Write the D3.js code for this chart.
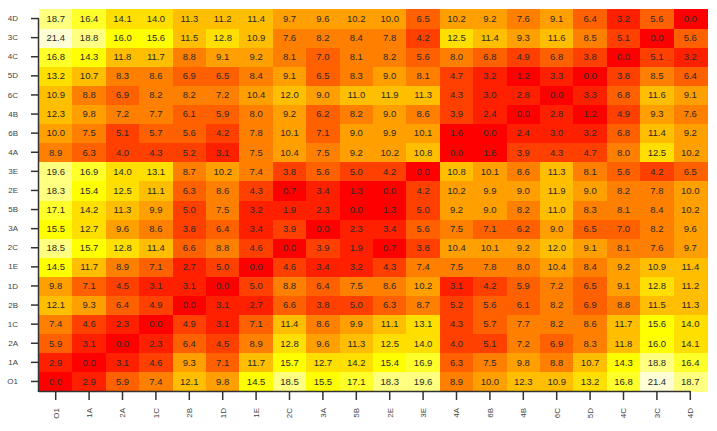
<!DOCTYPE html>
<html>
<head>
<meta charset="utf-8">
<script src="https://cdn.jsdelivr.net/npm/d3@7"></script>
<style>
  html, body { margin: 0; padding: 0; background: #ffffff; }
  svg { display: block; }
</style>
</head>
<body>
<svg id="chart" width="717" height="431"></svg>
<script>
// Column labels (left to right); rows use the same labels, drawn bottom to top
const labels = ["O1","1A","2A","1C","2B","1D","1E","2C","3A","5B","2E","3E","4A","6B","4B","6C","5D","4C","3C","4D"];

// Matrix rows in the same order as labels (row "O1" is the bottom row)
const rowO1 = [0.0,2.9,5.9,7.4,12.1,9.8,14.5,18.5,15.5,17.1,18.3,19.6,8.9,10.0,12.3,10.9,13.2,16.8,21.4,18.7];
const row1A = [2.9,0.0,3.1,4.6,9.3,7.1,11.7,15.7,12.7,14.2,15.4,16.9,6.3,7.5,9.8,8.8,10.7,14.3,18.8,16.4];
const row2A = [5.9,3.1,0.0,2.3,6.4,4.5,8.9,12.8,9.6,11.3,12.5,14.0,4.0,5.1,7.2,6.9,8.3,11.8,16.0,14.1];
const row1C = [7.4,4.6,2.3,0.0,4.9,3.1,7.1,11.4,8.6,9.9,11.1,13.1,4.3,5.7,7.7,8.2,8.6,11.7,15.6,14.0];
const row2B = [12.1,9.3,6.4,4.9,0.0,3.1,2.7,6.6,3.8,5.0,6.3,8.7,5.2,5.6,6.1,8.2,6.9,8.8,11.5,11.3];
const row1D = [9.8,7.1,4.5,3.1,3.1,0.0,5.0,8.8,6.4,7.5,8.6,10.2,3.1,4.2,5.9,7.2,6.5,9.1,12.8,11.2];
const row1E = [14.5,11.7,8.9,7.1,2.7,5.0,0.0,4.6,3.4,3.2,4.3,7.4,7.5,7.8,8.0,10.4,8.4,9.2,10.9,11.4];
const row2C = [18.5,15.7,12.8,11.4,6.6,8.8,4.6,0.0,3.9,1.9,0.7,3.8,10.4,10.1,9.2,12.0,9.1,8.1,7.6,9.7];
const row3A = [15.5,12.7,9.6,8.6,3.8,6.4,3.4,3.9,0.0,2.3,3.4,5.6,7.5,7.1,6.2,9.0,6.5,7.0,8.2,9.6];
const row5B = [17.1,14.2,11.3,9.9,5.0,7.5,3.2,1.9,2.3,0.0,1.3,5.0,9.2,9.0,8.2,11.0,8.3,8.1,8.4,10.2];
const row2E = [18.3,15.4,12.5,11.1,6.3,8.6,4.3,0.7,3.4,1.3,0.0,4.2,10.2,9.9,9.0,11.9,9.0,8.2,7.8,10.0];
const row3E = [19.6,16.9,14.0,13.1,8.7,10.2,7.4,3.8,5.6,5.0,4.2,0.0,10.8,10.1,8.6,11.3,8.1,5.6,4.2,6.5];
const row4A = [8.9,6.3,4.0,4.3,5.2,3.1,7.5,10.4,7.5,9.2,10.2,10.8,0.0,1.6,3.9,4.3,4.7,8.0,12.5,10.2];
const row6B = [10.0,7.5,5.1,5.7,5.6,4.2,7.8,10.1,7.1,9.0,9.9,10.1,1.6,0.0,2.4,3.0,3.2,6.8,11.4,9.2];
const row4B = [12.3,9.8,7.2,7.7,6.1,5.9,8.0,9.2,6.2,8.2,9.0,8.6,3.9,2.4,0.0,2.8,1.2,4.9,9.3,7.6];
const row6C = [10.9,8.8,6.9,8.2,8.2,7.2,10.4,12.0,9.0,11.0,11.9,11.3,4.3,3.0,2.8,0.0,3.3,6.8,11.6,9.1];
const row5D = [13.2,10.7,8.3,8.6,6.9,6.5,8.4,9.1,6.5,8.3,9.0,8.1,4.7,3.2,1.2,3.3,0.0,3.8,8.5,6.4];
const row4C = [16.8,14.3,11.8,11.7,8.8,9.1,9.2,8.1,7.0,8.1,8.2,5.6,8.0,6.8,4.9,6.8,3.8,0.0,5.1,3.2];
const row3C = [21.4,18.8,16.0,15.6,11.5,12.8,10.9,7.6,8.2,8.4,7.8,4.2,12.5,11.4,9.3,11.6,8.5,5.1,0.0,5.6];
const row4D = [18.7,16.4,14.1,14.0,11.3,11.2,11.4,9.7,9.6,10.2,10.0,6.5,10.2,9.2,7.6,9.1,6.4,3.2,5.6,0.0];

const rows = [rowO1,row1A,row2A,row1C,row2B,row1D,row1E,row2C,row3A,row5B,row2E,row3E,row4A,row6B,row4B,row6C,row5D,row4C,row3C,row4D];

// R heat.colors(12)
const heatColors = ["#FF0000","#FF2000","#FF4000","#FF6000","#FF8000","#FF9F00","#FFBF00","#FFDF00","#FFFF00","#FFFF2A","#FFFF80","#FFFFD5"];

(function () {
const cells = [];
rows.forEach((r, i) => r.forEach((v, j) => cells.push({row: labels[i], col: labels[j], value: v})));

const svg = d3.select("#chart");
const pLeft = 39, pRight = 707, pTop = 9, pBottom = 391;

const x = d3.scaleBand().domain(labels).range([pLeft, pRight]).padding(0);
const y = d3.scaleBand().domain(labels).range([pBottom, pTop]).padding(0);
const allVals = rows.flat();
const color = d3.scaleQuantize().domain([d3.min(allVals), d3.max(allVals)]).range(heatColors);

svg.append("g")
  .selectAll("rect")
  .data(cells)
  .join("rect")
  .attr("x", d => x(d.col))
  .attr("y", d => y(d.row))
  .attr("width", x.bandwidth() + 0.5)
  .attr("height", y.bandwidth() + 0.5)
  .attr("fill", d => color(d.value))
  .attr("shape-rendering", "crispEdges");

svg.append("g")
  .selectAll("text")
  .data(cells)
  .join("text")
  .attr("x", d => x(d.col) + x.bandwidth() / 2)
  .attr("y", d => y(d.row) + y.bandwidth() / 2)
  .attr("dy", "0.35em")
  .attr("text-anchor", "middle")
  .attr("font-family", "Liberation Sans, Arial, sans-serif")
  .attr("font-size", "9.5px")
  .attr("fill", "#2a2a2a")
  .text(d => d3.format(".1f")(d.value));

// Bottom axis
const xAxis = svg.append("g")
  .attr("transform", `translate(0,${pBottom})`)
  .call(d3.axisBottom(x).tickSize(9).tickSizeOuter(0));
xAxis.select(".domain").remove();
xAxis.append("line")
  .attr("x1", pLeft).attr("x2", x(labels[labels.length - 1]) + x.bandwidth() / 2)
  .attr("y1", 0.5).attr("y2", 0.5)
  .attr("stroke", "#333").attr("stroke-width", 1.5);
xAxis.selectAll(".tick line").attr("stroke", "#333").attr("stroke-width", 1.5);
xAxis.selectAll(".tick text")
  .attr("transform", "rotate(-90)")
  .attr("text-anchor", "end")
  .attr("x", -17)
  .attr("y", 0)
  .attr("dy", "0.35em")
  .attr("font-family", "Liberation Sans, Arial, sans-serif")
  .attr("font-size", "8px")
  .attr("fill", "#444");

// Left axis
const yAxis = svg.append("g")
  .attr("transform", `translate(${pLeft},0)`)
  .call(d3.axisLeft(y).tickSize(8).tickPadding(13).tickSizeOuter(0));
yAxis.select(".domain").remove();
yAxis.append("line")
  .attr("x1", -0.5).attr("x2", -0.5)
  .attr("y1", y(labels[labels.length - 1]) + y.bandwidth() / 2)
  .attr("y2", pBottom + 1)
  .attr("stroke", "#333").attr("stroke-width", 1.5);
yAxis.selectAll(".tick line").attr("stroke", "#333").attr("stroke-width", 1.5);
yAxis.selectAll(".tick text")
  .attr("font-family", "Liberation Sans, Arial, sans-serif")
  .attr("font-size", "8px")
  .attr("fill", "#444");
})();
</script>
</body>
</html>
